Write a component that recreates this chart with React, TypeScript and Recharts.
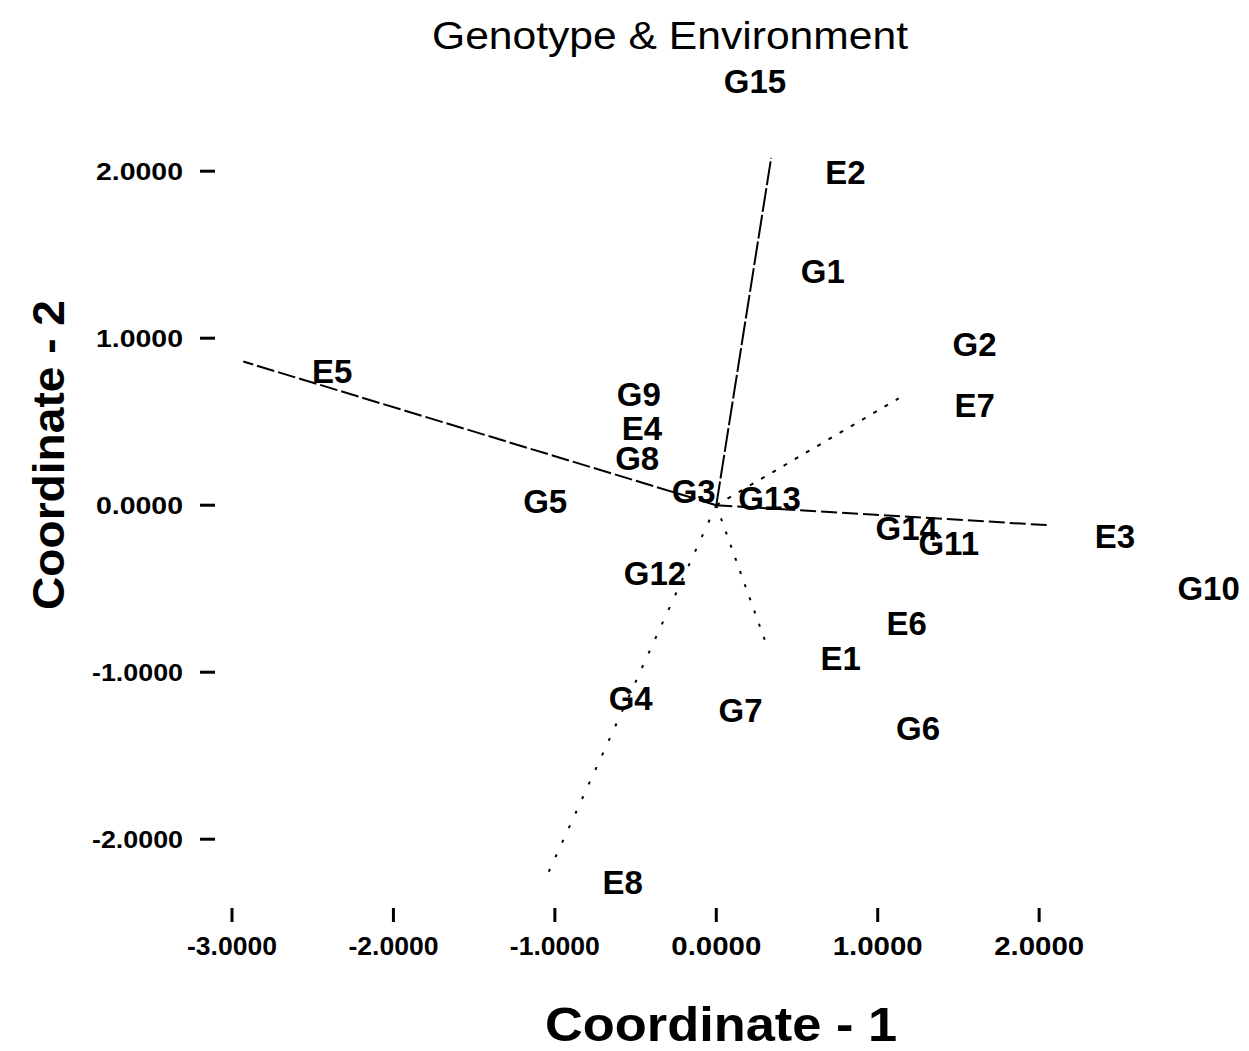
import React from 'react';
import { ScatterChart, Scatter, XAxis, YAxis, ReferenceLine } from 'recharts';

// genotype label positions (Coordinate 1, Coordinate 2)
const genotypeNames = ['G1', 'G2', 'G3', 'G4', 'G5', 'G6', 'G7', 'G8', 'G9', 'G10', 'G11', 'G12', 'G13', 'G14', 'G15'];
const genotypeX = [0.66, 1.6, -0.14, -0.53, -1.06, 1.25, 0.15, -0.49, -0.48, 3.05, 1.44, -0.38, 0.33, 1.18, 0.24];
const genotypeY = [1.4, 0.96, 0.08, -1.16, 0.02, -1.34, -1.23, 0.28, 0.66, -0.5, -0.23, -0.41, 0.04, -0.14, 2.54];

// environment label positions
const envNames = ['E1', 'E2', 'E3', 'E4', 'E5', 'E6', 'E7', 'E8'];
const envX = [0.77, 0.8, 2.47, -0.46, -2.38, 1.18, 1.6, -0.58];
const envY = [-0.92, 1.99, -0.19, 0.46, 0.8, -0.71, 0.6, -2.26];

// environment vector tips (drawn from origin)
const vectorNames = ['E1', 'E2', 'E3', 'E5', 'E7', 'E8'];
const vectorX = [0.32, 0.34, 2.06, -2.93, 1.13, -1.04];
const vectorY = [-0.86, 2.08, -0.12, 0.86, 0.64, -2.2];
const vectorDash = ['3 11', '24 3', '16 5', '18 4', '4 9', '3 13'];

const xTicks = [-3, -2, -1, 0, 1, 2];
const yTicks = [-2, -1, 0, 1, 2];

const FONT = '"Liberation Sans", Arial, sans-serif';

const points = [
  ...genotypeNames.map((name, i) => ({ name, x: genotypeX[i], y: genotypeY[i] })),
  ...envNames.map((name, i) => ({ name, x: envX[i], y: envY[i] })),
];

const LabelShape = (props: any) => (
  <text
    x={props.cx}
    y={props.cy}
    textAnchor="middle"
    dominantBaseline="central"
    fontFamily={FONT}
    fontWeight="bold"
    fontSize={33}
    fill="#000"
  >
    {props.payload.name}
  </text>
);

const XTick = (props: any) => {
  const { x, y, payload } = props;
  return (
    <g>
      <line x1={x} x2={x} y1={y + 2} y2={y + 16} stroke="#000" strokeWidth={3} />
      <text x={x} y={y + 40} textAnchor="middle" dominantBaseline="central" fontFamily={FONT}
        fontWeight="bold" fontSize={26} textLength={90} lengthAdjust="spacingAndGlyphs" fill="#000">
        {payload.value.toFixed(4)}
      </text>
    </g>
  );
};

const YTick = (props: any) => {
  const { x, y, payload } = props;
  const label = payload.value.toFixed(4);
  return (
    <g>
      <line x1={x - 32} x2={x - 17} y1={y} y2={y} stroke="#000" strokeWidth={3} />
      <text x={x - 49} y={y} textAnchor="end" dominantBaseline="central" fontFamily={FONT}
        fontWeight="bold" fontSize={24} textLength={label.startsWith('-') ? 91 : 87}
        lengthAdjust="spacingAndGlyphs" fill="#000">
        {label}
      </text>
    </g>
  );
};

const App: React.FC = () => {
  return (
    <div style={{ position: 'relative', width: 1249, height: 1051, margin: -8, background: '#fff' }}>
      <ScatterChart width={1249} height={1051} margin={{ top: 71, right: 0, left: 0, bottom: 0 }}>
        <XAxis
          type="number"
          dataKey="x"
          domain={[-3, 3.3]}
          ticks={xTicks}
          axisLine={false}
          tickLine={false}
          tickSize={0}
          tickMargin={0}
          height={145}
          tick={<XTick />}
        />
        <YAxis
          type="number"
          dataKey="y"
          domain={[-2.4, 2.6]}
          ticks={yTicks}
          axisLine={false}
          tickLine={false}
          tickSize={0}
          tickMargin={0}
          width={232}
          tick={<YTick />}
        />
        {vectorNames.map((name, i) => (
          <ReferenceLine
            key={name}
            segment={[{ x: 0, y: 0 }, { x: vectorX[i], y: vectorY[i] }]}
            stroke="#000"
            strokeWidth={2}
            strokeDasharray={vectorDash[i]}
            ifOverflow="visible"
          />
        ))}
        <Scatter data={points} shape={<LabelShape />} isAnimationActive={false} />
      </ScatterChart>
      <svg width={1249} height={1051} style={{ position: 'absolute', left: 0, top: 0, pointerEvents: 'none' }}>
        <text x={670} y={36} textAnchor="middle" dominantBaseline="central" fontFamily={FONT}
          fontSize={38} textLength={476} lengthAdjust="spacingAndGlyphs" fill="#000">
          Genotype &amp; Environment
        </text>
        <text x={721} y={1024} textAnchor="middle" dominantBaseline="central" fontFamily={FONT}
          fontWeight="bold" fontSize={48} textLength={352} lengthAdjust="spacingAndGlyphs" fill="#000">
          Coordinate - 1
        </text>
        <text x={48} y={455} textAnchor="middle" dominantBaseline="central" fontFamily={FONT}
          fontWeight="bold" fontSize={44} textLength={310} lengthAdjust="spacingAndGlyphs" fill="#000"
          transform="rotate(-90 48 455)">
          Coordinate - 2
        </text>
      </svg>
    </div>
  );
};

export default App;
